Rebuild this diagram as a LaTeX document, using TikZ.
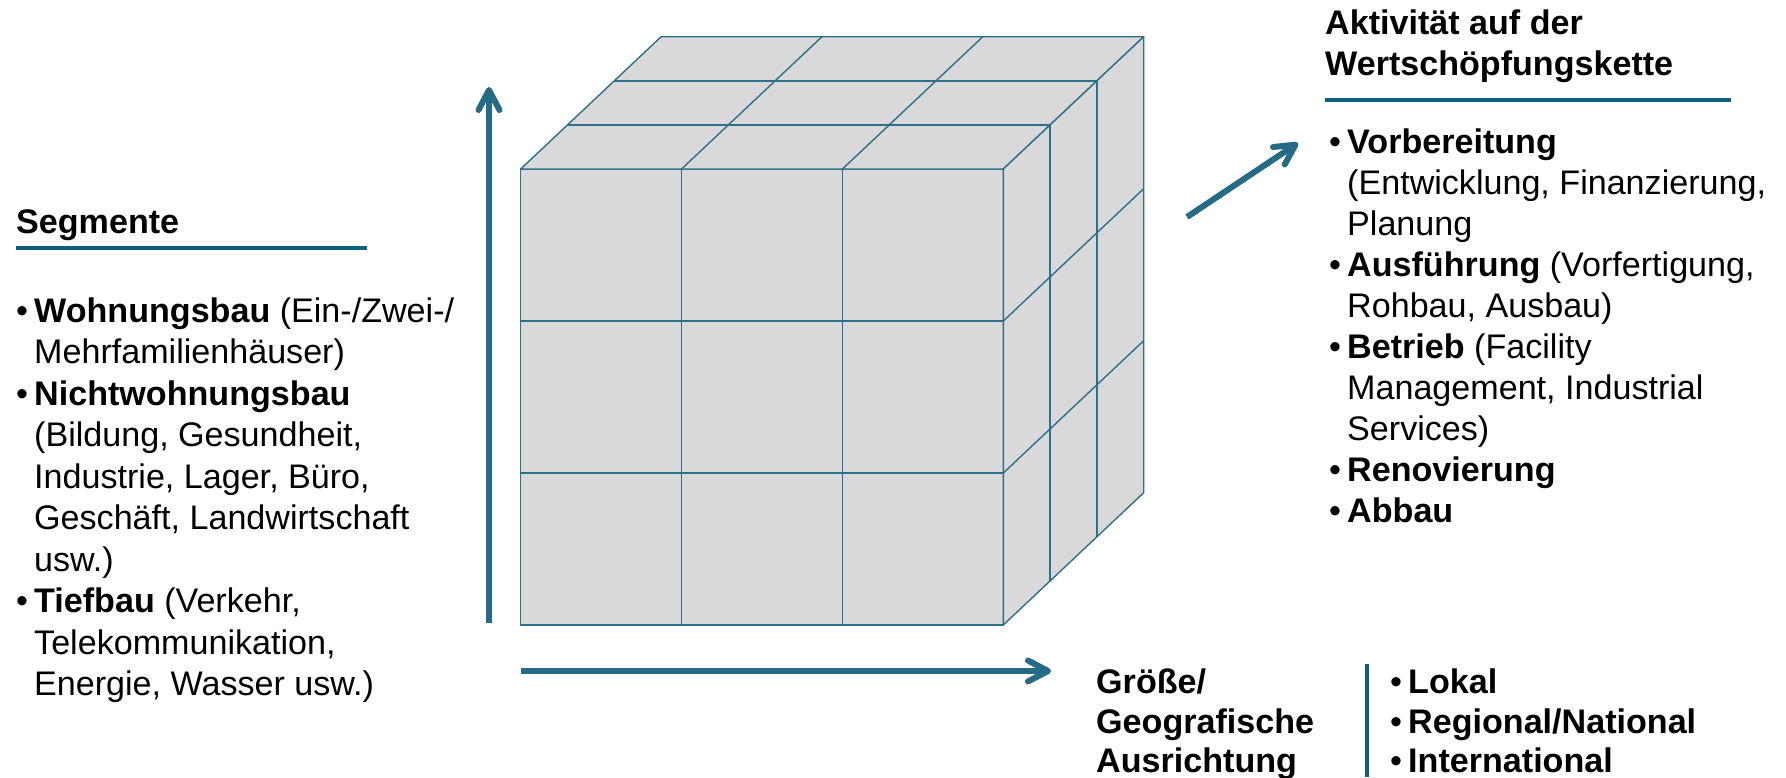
\documentclass[tikz,border=0pt]{standalone}
\usepackage{fontspec}
\setmainfont{Liberation Sans}
\usetikzlibrary{arrows.meta,calc}
\definecolor{axiscol}{HTML}{256A87}
\definecolor{rulecol}{HTML}{0F5F80}
\definecolor{gridcol}{HTML}{2E6F8C}
\definecolor{cubefill}{HTML}{D9D9D9}
\tikzset{
  txt/.style={font=\fontsize{34.1}{40}\selectfont, inner sep=0pt, anchor=base west, text=black},
  txtb/.style={txt, font=\fontsize{34.1}{40}\selectfont\bfseries},
  hrule/.style={line width=4.5pt, draw=rulecol},
  axisarrow/.style={line width=6pt, draw=axiscol, -{Straight Barb[length=20pt,width=21pt,round]}},
  cubeline/.style={draw=gridcol, line width=1.4pt},
  cubeface/.style={fill=cubefill, draw=gridcol, line width=1.4pt, line join=round}
}
\newcommand{\bul}{\makebox[18pt][l]{•}}
\begin{document}
\begin{tikzpicture}[x=1pt,y=-1pt]
\useasboundingbox (0,0) rectangle (1786,777);

% ---------- cube ----------
\coordinate (FTL) at (520.7,169);
\coordinate (FTR) at (1003.3,169);
\coordinate (FBL) at (520.7,625);
\coordinate (FBR) at (1003.3,625);
\coordinate (D) at (140.4,-132.3);
\coordinate (BTL) at ($(FTL)+(D)$);
\coordinate (BTR) at ($(FTR)+(D)$);
\coordinate (BBR) at ($(FBR)+(D)$);

\path[cubeface] (FTL) rectangle (FBR);
\path[cubeface] (FTL) -- (FTR) -- (BTR) -- (BTL) -- cycle;
\path[cubeface] (FTR) -- (BTR) -- (BBR) -- (FBR) -- cycle;

\foreach \i in {1,2}{
  % front face
  \draw[cubeline] ($(FTL)!\i/3!(FTR)$) -- ($(FBL)!\i/3!(FBR)$);
  \draw[cubeline] ($(FTL)!\i/3!(FBL)$) -- ($(FTR)!\i/3!(FBR)$);
  % top face
  \draw[cubeline] ($(FTL)!\i/3!(FTR)$) -- ($(BTL)!\i/3!(BTR)$);
  \draw[cubeline] ($(FTL)!\i/3!(BTL)$) -- ($(FTR)!\i/3!(BTR)$);
  % right face
  \draw[cubeline] ($(FTR)!\i/3!(FBR)$) -- ($(BTR)!\i/3!(BBR)$);
  \draw[cubeline] ($(FTR)!\i/3!(BTR)$) -- ($(FBR)!\i/3!(BBR)$);
}

% ---------- axes ----------
\coordinate (vs) at (489,623);
\coordinate (ve) at (489,87);
\coordinate (hs) at (521,671);
\coordinate (he) at (1051,671);
\coordinate (ds) at (1187,217);
\coordinate (de) at (1298,143);
\draw[axisarrow] (vs) -- (ve);
\draw[axisarrow] (hs) -- (he);
\draw[axisarrow] (ds) -- (de);

% ---------- left: Segmente ----------
\node[txtb] (seg) at (16,233) {Segmente};
\coordinate (segA) at (16,248);
\coordinate (segB) at (367,248);
\draw[hrule] (segA) -- (segB);

\node[txt] (l0) at (16,322)   {\bul\textbf{Wohnungsbau} (Ein-/Zwei-/};
\node[txt] (l1) at (34,363.5) {Mehrfamilienhäuser)};
\node[txt] (l2) at (16,405)   {\bul\textbf{Nichtwohnungsbau}};
\node[txt] (l3) at (34,446.5) {(Bildung, Gesundheit,};
\node[txt] (l4) at (34,488)   {Industrie, Lager, Büro,};
\node[txt] (l5) at (34,529.5) {Geschäft, Landwirtschaft};
\node[txt] (l6) at (34,571)   {usw.)};
\node[txt] (l7) at (16,612.5) {\bul\textbf{Tiefbau} (Verkehr,};
\node[txt] (l8) at (34,654)   {Telekommunikation,};
\node[txt] (l9) at (34,695.5) {Energie, Wasser usw.)};

% ---------- right: Wertschoepfungskette ----------
\node[txtb] (wt1) at (1325,34) {Aktivität auf der};
\node[txtb] (wt2) at (1325,75) {Wertschöpfungskette};
\coordinate (wtA) at (1325,100);
\coordinate (wtB) at (1731,100);
\draw[hrule] (wtA) -- (wtB);

\node[txt] (r0) at (1329,153) {\bul\textbf{Vorbereitung}};
\node[txt] (r1) at (1347,194) {(Entwicklung, Finanzierung,};
\node[txt] (r2) at (1347,235) {Planung};
\node[txt] (r3) at (1329,276) {\bul\textbf{Ausführung} (Vorfertigung,};
\node[txt] (r4) at (1347,317) {Rohbau, Ausbau)};
\node[txt] (r5) at (1329,358) {\bul\textbf{Betrieb} (Facility};
\node[txt] (r6) at (1347,399) {Management, Industrial};
\node[txt] (r7) at (1347,440) {Services)};
\node[txt] (r8) at (1329,481) {\bul\textbf{Renovierung}};
\node[txt] (r9) at (1329,522) {\bul\textbf{Abbau}};

% ---------- bottom: Groesse ----------
\node[txtb] (g1) at (1096,693) {Größe/};
\node[txtb] (g2) at (1096,733) {Geografische};
\node[txtb] (g3) at (1096,772) {Ausrichtung};
\coordinate (barA) at (1367,664);
\coordinate (barB) at (1367,777);
\draw[line width=4pt, draw=rulecol] (barA) -- (barB);

\node[txt] (b1) at (1390,693) {\bul\textbf{Lokal}};
\node[txt] (b2) at (1390,733) {\bul\textbf{Regional/National}};
\node[txt] (b3) at (1390,772) {\bul\textbf{International}};
\end{tikzpicture}
\end{document}
